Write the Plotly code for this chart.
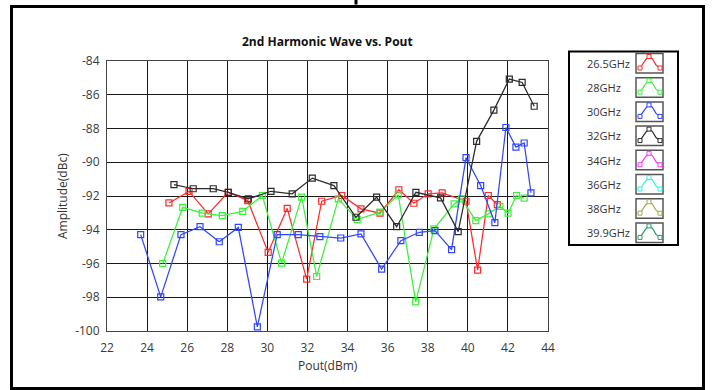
import plotly.graph_objects as go

# ---------------- data ----------------
series_names = ["26.5GHz", "28GHz", "30GHz", "32GHz", "34GHz", "36GHz", "38GHz", "39.9GHz"]
series_colors = ["#ff2a2a", "#3cf03c", "#2f45ff", "#2b2b2b", "#ff30ff", "#30f0f0", "#a8a848", "#2e9a6a"]

pout_265 = [25.09, 26.09, 27.05, 28.05, 29.02, 30.04, 30.99, 31.96, 32.71, 33.71, 34.67, 35.62,
            36.56, 37.31, 38.02, 38.72, 39.91, 40.49, 41.02, 41.47]
amp_265 = [-92.41, -91.73, -93.06, -91.78, -92.27, -95.34, -92.73, -96.93, -92.31, -91.97, -92.76, -93.02,
           -91.63, -92.43, -91.87, -91.81, -92.31, -96.39, -91.97, -92.51]

pout_28 = [24.78, 25.78, 26.75, 27.75, 28.77, 29.75, 30.71, 31.71, 32.46, 33.54, 34.48, 35.62,
           36.53, 37.40, 38.31, 39.32, 39.69, 40.40, 41.02, 41.60, 42.01, 42.43, 42.81]
amp_28 = [-96.0, -92.67, -93.02, -93.16, -92.91, -91.97, -95.98, -92.07, -96.77, -92.17, -93.40, -92.96,
          -91.93, -98.28, -93.95, -92.47, -92.17, -93.46, -93.06, -92.61, -93.02, -91.97, -92.13]

pout_30 = [23.68, 24.68, 25.69, 26.64, 27.60, 28.55, 29.50, 30.49, 31.54, 32.62, 33.66, 34.67,
           35.70, 36.66, 37.58, 38.36, 39.19, 39.91, 40.64, 41.35, 41.90, 42.40, 42.81, 43.15]
amp_30 = [-94.29, -97.98, -94.29, -93.82, -94.71, -93.86, -99.76, -94.29, -94.29, -94.41, -94.49, -94.25,
          -96.33, -94.65, -94.15, -94.05, -95.18, -89.73, -91.38, -93.58, -87.94, -89.10, -88.86, -91.81]

pout_32 = [25.34, 26.30, 27.30, 28.05, 29.05, 30.18, 31.24, 32.24, 33.32, 34.42, 35.45, 36.45,
           37.41, 38.64, 39.52, 40.44, 41.30, 42.07, 42.71, 43.31]
amp_32 = [-91.33, -91.57, -91.57, -91.78, -92.17, -91.72, -91.87, -90.94, -91.38, -93.26, -92.07, -93.82,
          -91.78, -92.11, -94.11, -88.76, -86.91, -85.07, -85.27, -86.68]

# series without visible data in the chart
pout_34, amp_34 = [], []
pout_36, amp_36 = [], []
pout_38, amp_38 = [], []
pout_399, amp_399 = [], []

x_ticks = [22, 24, 26, 28, 30, 32, 34, 36, 38, 40, 42, 44]
y_ticks = [-100, -98, -96, -94, -92, -90, -88, -86, -84]

title_text = "2nd Harmonic Wave vs. Pout"
x_title = "Pout(dBm)"
y_title = "Amplitude(dBc)"

all_x = [pout_265, pout_28, pout_30, pout_32, pout_34, pout_36, pout_38, pout_399]
all_y = [amp_265, amp_28, amp_30, amp_32, amp_34, amp_36, amp_38, amp_399]

# ---------------- layout geometry ----------------
W, H = 712, 390
L, R, T, B = 107, 164, 61, 59
PW, PH = W - L - R, H - T - B


def fx(px):
    return (px - L) / PW


def fy(py):
    return 1 - (py - T) / PH


FONT = "Open Sans, Noto Sans, Liberation Sans, sans-serif"

fig = go.Figure()
for xs, ys, name, col in zip(all_x, all_y, series_names, series_colors):
    fig.add_trace(go.Scatter(
        x=xs, y=ys, name=name, mode="lines+markers", showlegend=False,
        line=dict(color=col, width=1.25),
        marker=dict(symbol="square-open", size=6, color=col, line=dict(width=1.2, color=col)),
    ))

shapes = []
annotations = []

# outer frame
shapes.append(dict(type="rect", xref="paper", yref="paper",
                   x0=fx(11.5), x1=fx(703.5), y0=fy(388.5), y1=fy(6.5),
                   line=dict(color="black", width=3), layer="above"))
# small mark at top
shapes.append(dict(type="rect", xref="paper", yref="paper",
                   x0=fx(354.5), x1=fx(357.5), y0=fy(4.5), y1=fy(0),
                   line=dict(width=0), fillcolor="black"))

# legend box
shapes.append(dict(type="rect", xref="paper", yref="paper",
                   x0=fx(569), x1=fx(678), y0=fy(245), y1=fy(51.5),
                   line=dict(color="black", width=2)))

row0, dy = 63.3, 24.2
icon_pts = [(4, 14.5), (9.5, 6.5), (13, 3), (16.5, 5.5), (20, 11.5), (24, 14.5)]
mk_pts = [(4, 14.5), (13, 3), (24, 14.5)]
for i, (name, col) in enumerate(zip(series_names, series_colors)):
    cy = row0 + i * dy
    annotations.append(dict(xref="paper", yref="paper", x=fx(585), y=fy(cy), text=name,
                            showarrow=False, xanchor="left", yanchor="middle",
                            font=dict(family=FONT, size=11, color="#333333")))
    bx, by = 636, cy - 9.8
    shapes.append(dict(type="rect", xref="paper", yref="paper",
                       x0=fx(bx), x1=fx(bx + 27), y0=fy(by + 19.5), y1=fy(by),
                       line=dict(color="#555555", width=1.5), fillcolor="white"))
    path = "M " + " L ".join(f"{fx(bx + px):.5f},{fy(by + py):.5f}" for px, py in icon_pts)
    shapes.append(dict(type="path", xref="paper", yref="paper", path=path,
                       line=dict(color=col, width=1.2)))
    for px, py in mk_pts:
        shapes.append(dict(type="rect", xref="paper", yref="paper",
                           x0=fx(bx + px - 2), x1=fx(bx + px + 2),
                           y0=fy(by + py + 2), y1=fy(by + py - 2),
                           line=dict(color=col, width=1), fillcolor="white"))

# titles
annotations.append(dict(xref="paper", yref="paper", x=fx(327.5), y=fy(42), text="<b>" + title_text + "</b>",
                        showarrow=False, xanchor="center", yanchor="middle",
                        font=dict(family=FONT, size=12, color="#111111")))
annotations.append(dict(xref="paper", yref="paper", x=fx(327.5), y=fy(365), text=x_title,
                        showarrow=False, xanchor="center", yanchor="middle",
                        font=dict(family=FONT, size=12, color="#333333")))
annotations.append(dict(xref="paper", yref="paper", x=fx(62), y=fy(196), text=y_title, textangle=-90,
                        showarrow=False, xanchor="center", yanchor="middle",
                        font=dict(family=FONT, size=12, color="#333333")))

axis_common = dict(showgrid=True, gridcolor="#1a1a1a", gridwidth=1.2, zeroline=False,
                   showline=True, linecolor="#444444", linewidth=1, mirror=True,
                   ticks="", tickfont=dict(family=FONT, size=12, color="#3a3a3a"))

fig.update_layout(
    width=W, height=H,
    margin=dict(l=L, r=R, t=T, b=B, pad=0),
    paper_bgcolor="white", plot_bgcolor="white",
    showlegend=False,
    shapes=shapes, annotations=annotations,
    xaxis=dict(range=[22, 44], tickvals=x_ticks, ticktext=[str(v) for v in x_ticks],
               ticklabelstandoff=6, **axis_common),
    yaxis=dict(range=[-100, -84], tickvals=y_ticks, ticktext=[str(v) for v in y_ticks],
               ticklabelstandoff=4, **axis_common),
)

fig.write_html("out.html")
